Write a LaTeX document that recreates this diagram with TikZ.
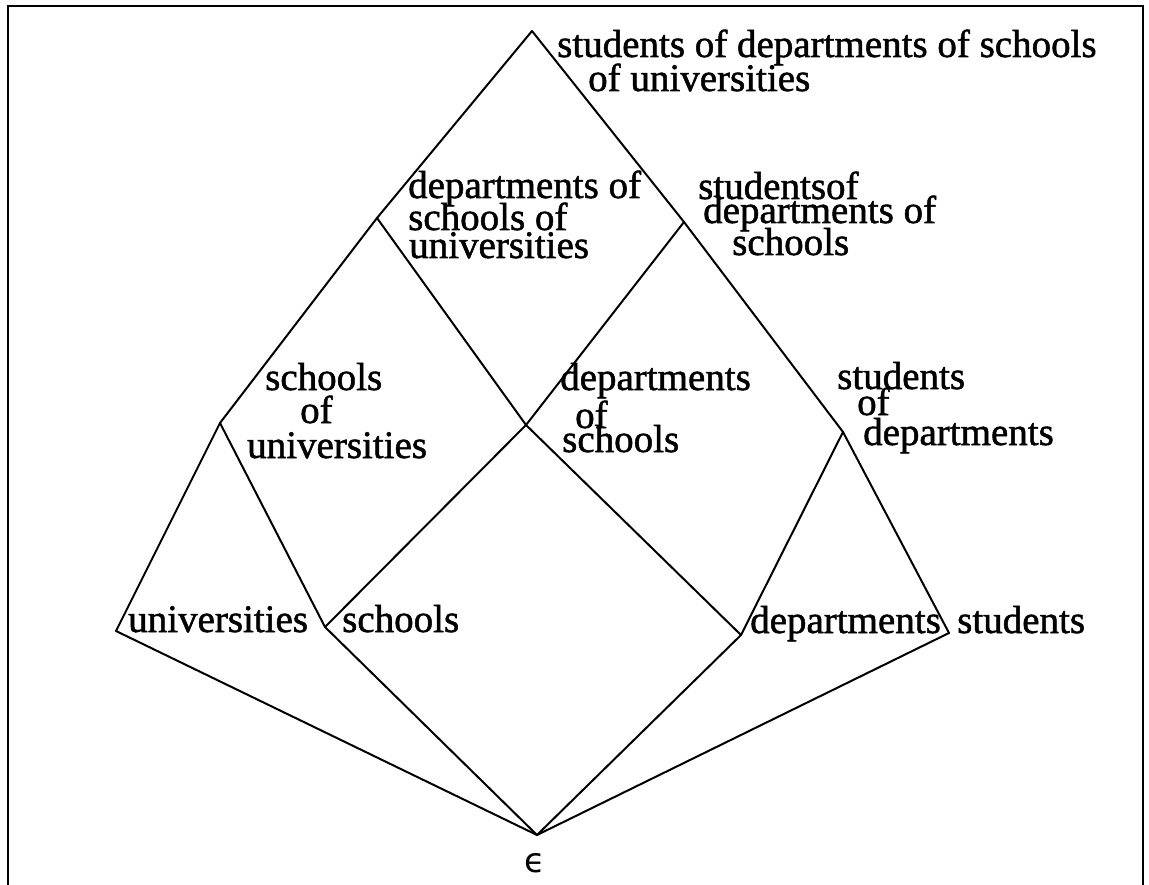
\documentclass[tikz,border=0pt]{standalone}
\usepackage{fontspec}
\setmainfont{Liberation Serif}
\newfontfamily\lblfont[FakeBold=1.3]{Liberation Serif}
\newfontfamily\epsfont{DejaVu Sans}
\begin{document}
\begin{tikzpicture}[x=1pt,y=-1pt,
  edge/.style={line width=2pt,line cap=round},
  lbl/.style={anchor=base west,inner sep=0pt,font=\fontsize{39}{39}\lblfont}]
\useasboundingbox (0,0) rectangle (1149,885);
% frame
\draw[line width=2.4pt] (8,885) -- (8,6) -- (1143,6) -- (1143,885);

% lattice points
\coordinate (T)   at (532,31);
\coordinate (DSU) at (377,218);
\coordinate (SDS) at (684,222);
\coordinate (SU)  at (220,423);
\coordinate (DS)  at (526,425);
\coordinate (SD)  at (843,432);
\coordinate (U)   at (116,631);
\coordinate (S)   at (325,627);
\coordinate (D)   at (741,635);
\coordinate (St)  at (949,633);
\coordinate (E)   at (537,835);

% covering relations
\draw[edge] (T) -- (DSU);
\draw[edge] (T) -- (SDS);
\draw[edge] (DSU) -- (SU);
\draw[edge] (DSU) -- (DS);
\draw[edge] (SDS) -- (DS);
\draw[edge] (SDS) -- (SD);
\draw[edge] (SU) -- (U);
\draw[edge] (SU) -- (S);
\draw[edge] (DS) -- (S);
\draw[edge] (DS) -- (D);
\draw[edge] (SD) -- (D);
\draw[edge] (SD) -- (St);
\draw[edge] (U) -- (E);
\draw[edge] (S) -- (E);
\draw[edge] (D) -- (E);
\draw[edge] (St) -- (E);

% labels
\node[lbl] (t1) at (557,57) {students of departments of schools};
\node[lbl] (t2) at (588,91) {of universities};

\node[lbl] (dsu1) at (408,198) {departments of};
\node[lbl] (dsu2) at (408,230) {schools of};
\node[lbl] (dsu3) at (409,258) {universities};

\node[lbl] (sds1) at (698,199) {studentsof};
\node[lbl] (sds2) at (703,223) {departments of};
\node[lbl] (sds3) at (732,255) {schools};

\node[lbl] (su1) at (265,390) {schools};
\node[lbl] (su2) at (300,423) {of};
\node[lbl] (su3) at (247,458) {universities};

\node[lbl] (ds1) at (560,390) {departments};
\node[lbl] (ds2) at (575,428) {of};
\node[lbl] (ds3) at (562,452) {schools};

\node[lbl] (sd1) at (837,389) {students};
\node[lbl] (sd2) at (857,415) {of};
\node[lbl] (sd3) at (863,445) {departments};

\node[lbl] (u1)  at (128,632) {universities};
\node[lbl] (s1)  at (342,632) {schools};
\node[lbl] (d1)  at (750,633) {departments};
\node[lbl] (st1) at (957,633) {students};

\node[anchor=base,inner sep=0pt,font=\fontsize{34}{34}\epsfont] (e1) at (535,872) {ϵ};
\end{tikzpicture}
\end{document}
